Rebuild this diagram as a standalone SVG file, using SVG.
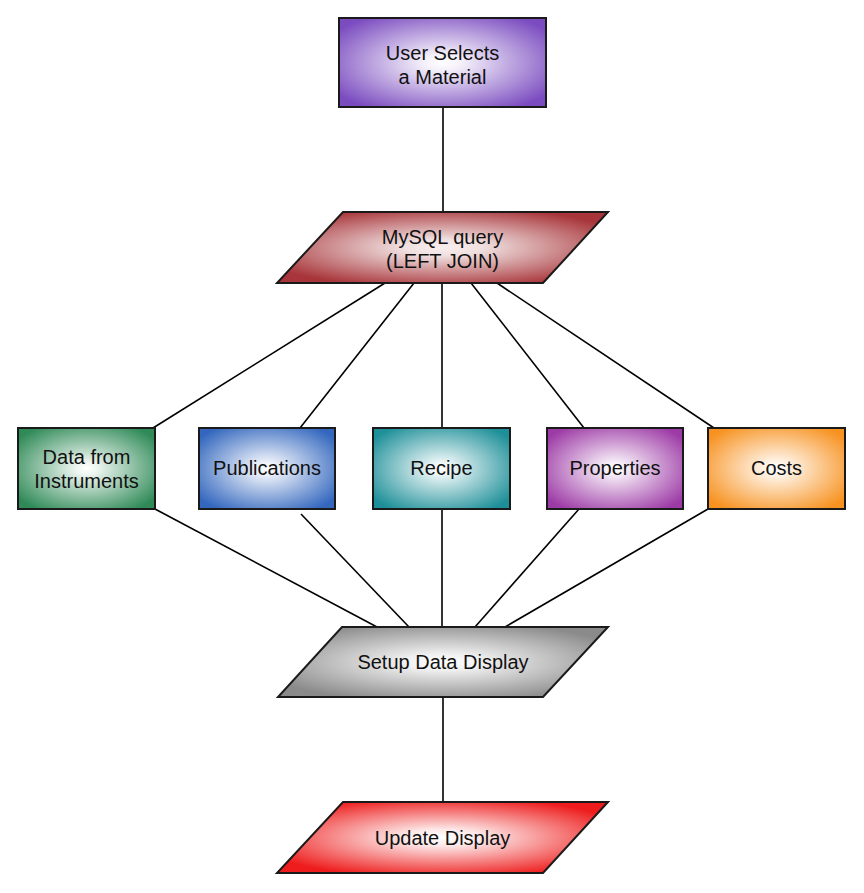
<svg xmlns="http://www.w3.org/2000/svg" width="864" height="893" viewBox="0 0 864 893">
<defs>
<radialGradient id="gPurple" cx="50%" cy="50%" r="62%"><stop offset="0" stop-color="#ffffff"/><stop offset="0.15" stop-color="#f4f0fa"/><stop offset="1" stop-color="#7b4cc0"/></radialGradient>
<radialGradient id="gRed" cx="50%" cy="50%" r="58%"><stop offset="0" stop-color="#f8eeee"/><stop offset="0.2" stop-color="#f0e0e0"/><stop offset="1" stop-color="#a8353a"/></radialGradient>
<radialGradient id="gGreen" cx="50%" cy="50%" r="62%"><stop offset="0" stop-color="#ffffff"/><stop offset="0.12" stop-color="#eef6f1"/><stop offset="1" stop-color="#2f8a57"/></radialGradient>
<radialGradient id="gBlue" cx="50%" cy="50%" r="62%"><stop offset="0" stop-color="#ffffff"/><stop offset="0.12" stop-color="#eef2fa"/><stop offset="1" stop-color="#3367be"/></radialGradient>
<radialGradient id="gTeal" cx="50%" cy="50%" r="62%"><stop offset="0" stop-color="#ffffff"/><stop offset="0.12" stop-color="#ecf6f7"/><stop offset="1" stop-color="#1d8f98"/></radialGradient>
<radialGradient id="gMag" cx="50%" cy="50%" r="62%"><stop offset="0" stop-color="#ffffff"/><stop offset="0.12" stop-color="#f7eef8"/><stop offset="1" stop-color="#9d3ba6"/></radialGradient>
<radialGradient id="gOrange" cx="50%" cy="50%" r="62%"><stop offset="0" stop-color="#ffffff"/><stop offset="0.12" stop-color="#fff6ec"/><stop offset="1" stop-color="#f79220"/></radialGradient>
<radialGradient id="gGray" cx="50%" cy="50%" r="58%"><stop offset="0" stop-color="#ffffff"/><stop offset="0.2" stop-color="#f0f0f0"/><stop offset="1" stop-color="#8a8a8a"/></radialGradient>
<radialGradient id="gBright" cx="50%" cy="50%" r="58%"><stop offset="0" stop-color="#ffffff"/><stop offset="0.2" stop-color="#fde8e8"/><stop offset="1" stop-color="#ee1c1c"/></radialGradient>
</defs>
<style>
.shape{stroke:#1a1a1a;stroke-width:2}
.conn line{stroke:#000;stroke-width:1.6}
text{font-family:"Liberation Sans",Arial,sans-serif;font-size:20px;fill:#111;text-anchor:middle}
</style>
<g class="conn" id="connectors">
<line x1="443" y1="107" x2="443" y2="212"/>
<line x1="385" y1="283" x2="153" y2="428"/>
<line x1="414" y1="283" x2="300" y2="428"/>
<line x1="442" y1="283" x2="442" y2="428"/>
<line x1="471" y1="283" x2="584" y2="428"/>
<line x1="497" y1="283" x2="714" y2="428"/>
<line x1="155" y1="509" x2="377" y2="627"/>
<line x1="301" y1="514" x2="409" y2="627"/>
<line x1="442" y1="509" x2="442" y2="627"/>
<line x1="579" y1="509" x2="475" y2="627"/>
<line x1="708" y1="509" x2="505" y2="627"/>
<line x1="443" y1="697" x2="443" y2="802"/>
</g>
<g id="user-selects">
<rect class="shape" x="339" y="18" width="207" height="89" fill="url(#gPurple)"/>
<text x="442.5" y="60">User Selects</text>
<text x="442.5" y="84">a Material</text>
</g>
<g id="mysql-query">
<polygon class="shape" points="343,212 608,212 543,283 277,283" fill="url(#gRed)"/>
<text x="442.5" y="244">MySQL query</text>
<text x="442.5" y="268">(LEFT JOIN)</text>
</g>
<g id="data-instruments">
<rect class="shape" x="18" y="428" width="137" height="81" fill="url(#gGreen)"/>
<text x="86.5" y="464">Data from</text>
<text x="86.5" y="488">Instruments</text>
</g>
<g id="publications">
<rect class="shape" x="199" y="428" width="136" height="81" fill="url(#gBlue)"/>
<text x="267" y="475">Publications</text>
</g>
<g id="recipe">
<rect class="shape" x="373" y="428" width="137" height="81" fill="url(#gTeal)"/>
<text x="441.5" y="475">Recipe</text>
</g>
<g id="properties">
<rect class="shape" x="547" y="428" width="136" height="81" fill="url(#gMag)"/>
<text x="615" y="475">Properties</text>
</g>
<g id="costs">
<rect class="shape" x="708" y="428" width="137" height="81" fill="url(#gOrange)"/>
<text x="776.5" y="475">Costs</text>
</g>
<g id="setup-display">
<polygon class="shape" points="342,627 608,627 543,697 278,697" fill="url(#gGray)"/>
<text x="443" y="669">Setup Data Display</text>
</g>
<g id="update-display">
<polygon class="shape" points="343,802 608,802 543,873 277,873" fill="url(#gBright)"/>
<text x="442.5" y="845">Update Display</text>
</g>
</svg>
